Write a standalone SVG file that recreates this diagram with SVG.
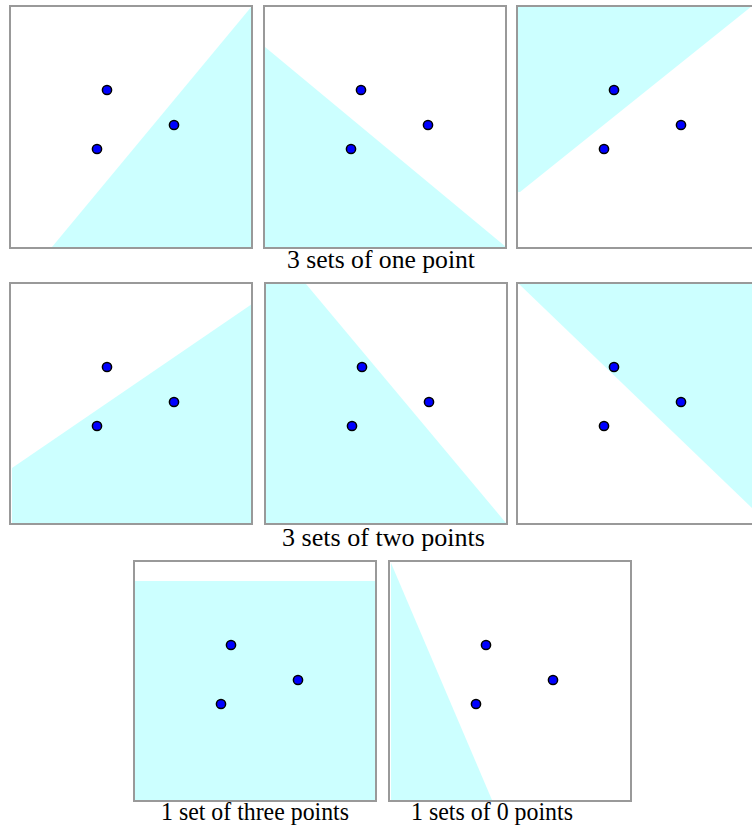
<svg xmlns="http://www.w3.org/2000/svg" width="752" height="827" viewBox="0 0 752 827">
<style>
.frame{fill:none;stroke:#999999;stroke-width:2}
.region{fill:#ccffff;stroke:none}
.pt{fill:#0000ff;stroke:#000000;stroke-width:1.5}
.lbl{font-family:"Liberation Serif","Times New Roman",serif;font-size:25.5px;fill:#000000}
</style>
<rect width="752" height="827" fill="#ffffff"/>
<defs>
<g id="pts">
<circle class="pt" cx="107" cy="90" r="4.6"/>
<circle class="pt" cx="174" cy="125" r="4.6"/>
<circle class="pt" cx="97" cy="149" r="4.6"/>
</g>
</defs>
<g id="panel1">
<polygon class="region" points="252,6 252,247 52,247"/>
<rect class="frame" x="10" y="6" width="242" height="242"/>
<use href="#pts"/>
</g>
<g id="panel2">
<polygon class="region" points="265,47 506,247 265,247"/>
<rect class="frame" x="264" y="6" width="242" height="242"/>
<use href="#pts" transform="translate(254,0)"/>
</g>
<g id="panel3">
<polygon class="region" points="518,7 752,7 752,6 520,192 518,192"/>
<rect class="frame" x="517" y="6" width="242" height="242"/>
<use href="#pts" transform="translate(507,0)"/>
</g>
<g id="panel4">
<polygon class="region" points="12,468 252,304 252,523 12,523"/>
<rect class="frame" x="10" y="283" width="242" height="241"/>
<use href="#pts" transform="translate(0,277)"/>
</g>
<g id="panel5">
<polygon class="region" points="266,284 306,284 506,523 266,523"/>
<rect class="frame" x="265" y="283" width="242" height="241"/>
<use href="#pts" transform="translate(255,277)"/>
</g>
<g id="panel6">
<polygon class="region" points="519,284 752,284 752,508"/>
<rect class="frame" x="517" y="283" width="242" height="241"/>
<use href="#pts" transform="translate(507,277)"/>
</g>
<g id="panel7">
<rect class="region" x="134" y="581" width="242" height="220"/>
<rect class="frame" x="134" y="561" width="242" height="240"/>
<use href="#pts" transform="translate(124,555)"/>
</g>
<g id="panel8">
<polygon class="region" points="391,563 492,800 391,800"/>
<rect class="frame" x="389" y="561" width="242" height="240"/>
<use href="#pts" transform="translate(379,555)"/>
</g>
<g id="labels">
<text class="lbl" x="287" y="268" textLength="188" lengthAdjust="spacingAndGlyphs">3 sets of one point</text>
<text class="lbl" x="282" y="546" textLength="203" lengthAdjust="spacingAndGlyphs">3 sets of two points</text>
<text class="lbl" x="161" y="820" textLength="188" lengthAdjust="spacingAndGlyphs">1 set of three points</text>
<text class="lbl" x="411" y="820" textLength="162" lengthAdjust="spacingAndGlyphs">1 sets of 0 points</text>
</g>
</svg>
